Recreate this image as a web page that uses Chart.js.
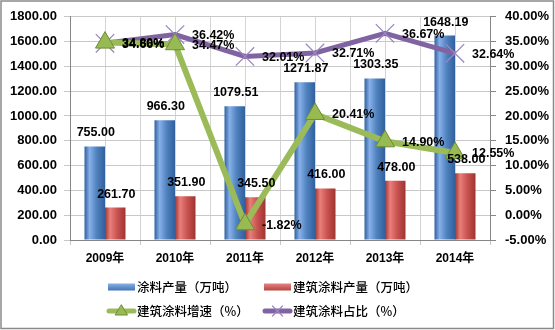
<!DOCTYPE html>
<html>
<head>
<meta charset="utf-8">
<script src="https://cdn.jsdelivr.net/npm/chart.js@4/dist/chart.umd.min.js"></script>
<style>
    html, body { margin: 0; padding: 0; background: #fff; }
</style>
</head>
<body>
<canvas id="grafico" width="555" height="330"></canvas>
<script>
const years = ["2009年", "2010年", "2011年", "2012年", "2013年", "2014年"];
const coatingOutput = [755.00, 966.30, 1079.51, 1271.87, 1303.35, 1648.19];
const archOutput = [261.70, 351.90, 345.50, 416.00, 478.00, 538.00];
const archGrowth = [34.80, 34.47, -1.82, 20.41, 14.90, 12.55];
const archShare = [34.66, 36.42, 32.01, 32.71, 36.67, 32.64];
const minorSlots = ["", "", "", "", "", "", "", "", "", "", "", ""];

const FONT = '"Liberation Sans", "Noto Sans CJK SC", sans-serif';
const CJK = '"Noto Sans CJK SC", sans-serif';
const BAR_PCT = 0.586;

Chart.defaults.font.family = FONT;
Chart.defaults.color = "#000";

// horizontal shading across each bar, so it looks like a cylinder
function barShade(side, dark, light, mid) {
    return function (c) {
        const xs = c.chart.scales.x;
        if (c.type !== "data" || !xs) return mid;
        const center = xs.getPixelForValue(c.dataIndex);
        const w = xs.width / years.length * BAR_PCT / 2;
        const left = side < 0 ? center - w : center;
        if (!isFinite(left) || !isFinite(w) || w <= 0) return mid;
        const g = c.chart.ctx.createLinearGradient(left, 0, left + w, 0);
        g.addColorStop(0, dark);
        g.addColorStop(0.25, light);
        g.addColorStop(0.6, mid);
        g.addColorStop(1, dark);
        return g;
    };
}

const valueLabels = {
    id: "valueLabels",
    afterDatasetsDraw(chart) {
        const ctx = chart.ctx;
        ctx.save();
        ctx.fillStyle = "#000";
        ctx.textBaseline = "middle";
        ctx.font = "bold 12.5px " + FONT;
        chart.data.datasets.forEach((ds, i) => {
            const meta = chart.getDatasetMeta(i);
            meta.data.forEach((el, j) => {
                const v = ds.data[j];
                if (meta.type === "bar") {
                    ctx.textAlign = "center";
                    ctx.fillText(v.toFixed(2), el.x + 1, el.y - 13.5);
                } else {
                    ctx.textAlign = "left";
                    ctx.fillText(v.toFixed(2) + "%", el.x + 17, el.y + 1);
                }
            });
        });
        ctx.restore();
    }
};

const legendBox = {
    id: "legendBox",
    afterDraw(chart) {
        const ctx = chart.ctx;
        const cols = [108, 264];
        const rows = [287, 311];
        ctx.save();
        chart.data.datasets.forEach((ds, i) => {
            const x = cols[i % 2];
            const y = rows[Math.floor(i / 2)];
            if (ds.type === "line") {
                ctx.strokeStyle = ds.borderColor;
                ctx.lineWidth = 5;
                ctx.lineCap = "round";
                ctx.beginPath();
                ctx.moveTo(x + 1, y);
                ctx.lineTo(x + 26, y);
                ctx.stroke();
                const cx = x + 13.5;
                if (ds.pointStyle === "triangle") {
                    ctx.fillStyle = ds.pointBackgroundColor;
                    ctx.strokeStyle = ds.pointBorderColor;
                    ctx.lineWidth = 1;
                    ctx.beginPath();
                    ctx.moveTo(cx, y - 6);
                    ctx.lineTo(cx + 6, y + 4);
                    ctx.lineTo(cx - 6, y + 4);
                    ctx.closePath();
                    ctx.fill();
                    ctx.stroke();
                } else {
                    ctx.strokeStyle = ds.pointBorderColor;
                    ctx.lineWidth = 1.2;
                    ctx.beginPath();
                    ctx.moveTo(cx - 5, y - 5);
                    ctx.lineTo(cx + 5, y + 5);
                    ctx.moveTo(cx + 5, y - 5);
                    ctx.lineTo(cx - 5, y + 5);
                    ctx.stroke();
                }
            } else {
                const g = ctx.createLinearGradient(0, y - 4, 0, y + 4);
                g.addColorStop(0, ds.legendLight);
                g.addColorStop(1, ds.legendDark);
                ctx.fillStyle = g;
                ctx.fillRect(x, y - 3.5, 27, 7);
            }
            ctx.fillStyle = "#000";
            ctx.font = "500 12.5px " + CJK;
            ctx.textAlign = "left";
            ctx.textBaseline = "middle";
            ctx.fillText(ds.label, x + 29, y);
        });
        ctx.restore();
    }
};

const frame = {
    id: "frame",
    beforeDraw(chart) {
        const ctx = chart.ctx;
        ctx.save();
        ctx.fillStyle = "#fff";
        ctx.fillRect(0, 0, chart.width, chart.height);
        ctx.restore();
    },
    afterDraw(chart) {
        const ctx = chart.ctx;
        ctx.save();
        ctx.strokeStyle = "#8a8a8a";
        ctx.lineWidth = 1.5;
        ctx.strokeRect(1, 1, chart.width - 2.5, chart.height - 2.5);
        ctx.restore();
    }
};

new Chart(document.getElementById("grafico"), {
    type: "bar",
    data: {
        labels: years,
        datasets: [
            {
                type: "bar",
                label: "涂料产量（万吨）",
                data: coatingOutput,
                yAxisID: "y",
                backgroundColor: barShade(-1, "#30619e", "#86b0ea", "#4f81bd"),
                legendLight: "#8db4ea",
                legendDark: "#3f70b0",
                barPercentage: 1,
                categoryPercentage: BAR_PCT,
                order: 2
            },
            {
                type: "bar",
                label: "建筑涂料产量（万吨）",
                data: archOutput,
                yAxisID: "y",
                backgroundColor: barShade(1, "#9e3532", "#ea7f7b", "#c8524f"),
                legendLight: "#eb8783",
                legendDark: "#b13f3c",
                barPercentage: 1,
                categoryPercentage: BAR_PCT,
                order: 3
            },
            {
                type: "line",
                label: "建筑涂料增速（%）",
                data: archGrowth,
                yAxisID: "y1",
                borderColor: "#9bbb59",
                borderWidth: 6,
                pointStyle: "triangle",
                pointRadius: 11,
                pointBackgroundColor: "#98ba52",
                pointBorderColor: "#6f8c36",
                pointBorderWidth: 1,
                tension: 0,
                order: 0
            },
            {
                type: "line",
                label: "建筑涂料占比（%）",
                data: archShare,
                yAxisID: "y1",
                borderColor: "#8064a2",
                borderWidth: 5,
                pointStyle: "crossRot",
                pointRadius: 13,
                pointBorderColor: "#9d86c2",
                pointBorderWidth: 1.3,
                tension: 0,
                order: 1
            }
        ]
    },
    options: {
        responsive: false,
        animation: false,
        layout: { padding: { top: 15, left: 0, right: 0, bottom: 60 } },
        plugins: {
            legend: { display: false },
            tooltip: { enabled: false }
        },
        scales: {
            x: {
                offset: true,
                grid: { offset: true, color: "#c8c8c8", tickLength: 5 },
                border: { color: "#868686" },
                ticks: { font: { size: 12, weight: "bold" }, padding: 6 },
                afterFit(scale) { scale.height = 30; }
            },
            xMinor: {
                type: "category",
                labels: minorSlots,
                position: "top",
                offset: true,
                grid: { offset: true, color: "#d4d4d4", drawTicks: false },
                border: { display: false },
                ticks: { display: false }
            },
            y: {
                position: "left",
                min: 0,
                max: 1800,
                ticks: {
                    stepSize: 200,
                    padding: 7,
                    font: { size: 13, weight: "bold" },
                    callback: v => v.toFixed(2)
                },
                grid: { color: "#c8c8c8", tickLength: 6 },
                border: { color: "#868686" },
                afterFit(scale) { scale.width = 70; }
            },
            y1: {
                position: "right",
                min: -5,
                max: 40,
                ticks: {
                    stepSize: 5,
                    padding: 9,
                    font: { size: 13, weight: "bold" },
                    callback: v => v.toFixed(2) + "%"
                },
                grid: { drawOnChartArea: false, color: "#868686", tickLength: 6 },
                border: { color: "#868686" },
                afterFit(scale) { scale.width = 65; }
            }
        }
    },
    plugins: [frame, valueLabels, legendBox]
});
</script>
</body>
</html>
